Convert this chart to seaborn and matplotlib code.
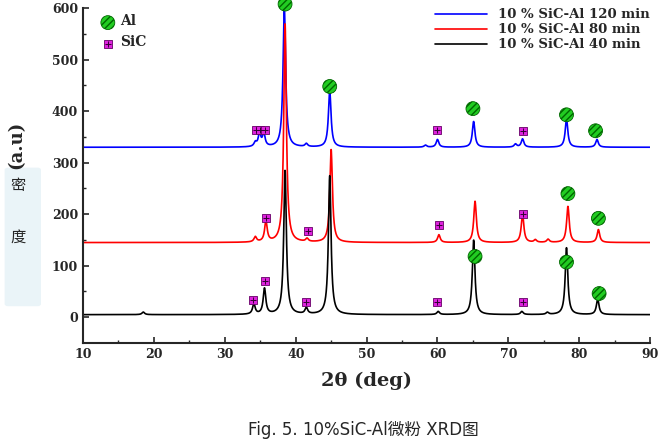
import numpy as np
import pandas as pd
import matplotlib
matplotlib.use("Agg")
import matplotlib.pyplot as plt
import seaborn as sns
from matplotlib.patches import FancyBboxPatch

sns.set_style("ticks")
plt.rcParams['font.family'] = ['DejaVu Sans', 'Noto Sans CJK SC']

# peak lists: position (deg), height above baseline
base_40, base_80, base_120 = 5, 145, 330
pos_40 = [18.5, 34.1, 35.6, 38.5, 41.5, 44.8, 60.1, 65.1, 71.9, 75.5, 78.2, 82.6]
hgt_40 = [5, 20, 50, 280, 12, 270, 6, 145, 6, 4, 130, 30]
pos_80 = [34.3, 35.8, 38.5, 41.6, 45.0, 60.2, 65.3, 72.0, 73.8, 75.6, 78.4, 82.7]
hgt_80 = [10, 40, 425, 6, 180, 15, 80, 55, 5, 6, 70, 25]
pos_120 = [34.3, 34.9, 35.5, 38.4, 41.5, 44.8, 58.3, 60.0, 65.1, 71.0, 72.0, 78.2, 82.5]
hgt_120 = [8, 25, 25, 270, 6, 110, 4, 15, 50, 6, 16, 55, 15]
labels = ["10 % SiC-Al 120 min", "10 % SiC-Al 80 min", "10 % SiC-Al 40 min"]
colors = ["#0000ff", "#ff0000", "#000000"]

al_x = [38.5, 44.8, 65.0, 78.2, 82.3, 78.4, 82.7, 65.3, 78.2, 82.8]
al_y = [608, 448, 405, 393, 362, 240, 192, 118, 107, 46]
sic_x = [34.4, 35.0, 35.6, 60.0, 72.0, 35.8, 41.7, 60.2, 72.0, 34.0, 35.7, 41.5, 60.0, 72.0]
sic_y = [363, 363, 363, 363, 362, 193, 168, 180, 200, 33, 70, 30, 30, 30]

x = np.linspace(10, 90, 3000)
def profile(base, pos, hgt, w=0.22):
    y = np.full_like(x, float(base))
    for p, h in zip(pos, hgt):
        y += h / (1 + ((x - p) / w) ** 2)
    return y

fig = plt.figure(figsize=(6.61, 4.47), dpi=100)
fig.patches.append(FancyBboxPatch((0.012, 0.32), 0.045, 0.30, boxstyle="round,pad=0.005",
                                  transform=fig.transFigure, facecolor='#eaf4f8', edgecolor='none', zorder=0))
ax = fig.add_axes([0.1256, 0.2327, 0.858, 0.749])
ax.patch.set_alpha(0)
for (b, p, h), lab, c in zip([(base_120, pos_120, hgt_120), (base_80, pos_80, hgt_80), (base_40, pos_40, hgt_40)], labels, colors):
    df = pd.DataFrame({"x": x, "y": profile(b, p, h)})
    sns.lineplot(data=df, x="x", y="y", ax=ax, color=c, lw=1.2, label=lab)

plt.rcParams['hatch.color'] = '#006600'
ax.scatter(al_x, al_y, s=100, marker='o', facecolor='#22cc22', edgecolor='#006600', hatch='/////', lw=0.6, zorder=5, clip_on=False)
ax.scatter(sic_x, sic_y, s=40, marker='s', facecolor='#dd22dd', edgecolor='#660066', lw=0.6, zorder=5)
ax.scatter(sic_x, sic_y, s=22, marker='+', color='#330033', lw=0.7, zorder=6)

# Al / SiC key
ax.scatter([13.5], [572], s=100, marker='o', facecolor='#22cc22', edgecolor='#006600', hatch='/////', lw=0.6)
ax.scatter([13.5], [531], s=40, marker='s', facecolor='#dd22dd', edgecolor='#660066', lw=0.6)
ax.scatter([13.5], [531], s=22, marker='+', color='#330033', lw=0.7)
ax.text(15.2, 576, "Al", family='DejaVu Serif', weight='bold', fontsize=10, va='center')
ax.text(15.2, 534, "SiC", family='DejaVu Serif', weight='bold', fontsize=10, va='center')

ax.set_xlim(10, 90)
ax.set_ylim(-50, 600)
ax.set_xticks(range(10, 91, 10))
ax.set_xticks(range(15, 90, 10), minor=True)
ax.set_yticks(range(0, 601, 100))
ax.set_yticks(range(50, 600, 100), minor=True)
for t in ax.get_xticklabels() + ax.get_yticklabels():
    t.set_family('DejaVu Serif'); t.set_weight('bold'); t.set_fontsize(9)
ax.tick_params(direction='in', length=4, width=1.2, which='major')
ax.tick_params(direction='in', length=2, width=1, which='minor')
ax.spines['left'].set_linewidth(1.5); ax.spines['bottom'].set_linewidth(1.5)
sns.despine(ax=ax)
ax.set_xlabel("2θ (deg)", family='DejaVu Serif', weight='bold', fontsize=14, labelpad=8)
ax.set_ylabel("")
leg = ax.legend(loc='upper right', frameon=False, bbox_to_anchor=(1.02, 1.035),
                prop={'family': 'DejaVu Serif', 'weight': 'bold', 'size': 9.5}, handlelength=4, labelspacing=0.15)

fig.text(0.024, 0.675, "(a.u)", rotation=90, family='DejaVu Serif', weight='bold', fontsize=13, va='center', ha='center')
fig.text(0.028, 0.585, "密", family='Noto Sans CJK SC', fontsize=11, va='center', ha='center')
fig.text(0.028, 0.47, "度", family='Noto Sans CJK SC', fontsize=11, va='center', ha='center')
fig.text(0.55, 0.038, "Fig. 5. 10%SiC-Al微粉 XRD图", family=['DejaVu Sans', 'Noto Sans CJK SC'], fontsize=12, ha='center', va='center')
fig.savefig("out.png", dpi=100)
